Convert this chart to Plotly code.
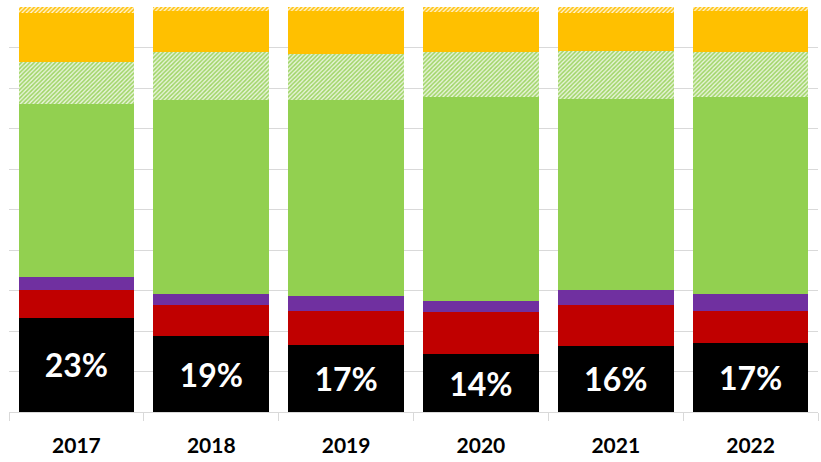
import plotly.graph_objects as go

years = ["2017", "2018", "2019", "2020", "2021", "2022"]
black_vals = [23.3, 18.7, 16.5, 14.2, 16.3, 17.0]
black_labels = ["23%", "19%", "17%", "14%", "16%", "17%"]
red_vals = [6.8, 7.7, 8.4, 10.6, 10.1, 8.0]
purple_vals = [3.2, 2.8, 3.8, 2.7, 3.7, 4.1]
green_vals = [42.7, 47.8, 48.3, 50.4, 47.2, 48.8]
green_hatched_vals = [10.5, 11.8, 11.4, 11.1, 11.8, 11.1]
orange_vals = [11.9, 10.2, 10.7, 9.8, 9.5, 10.0]
orange_hatched_vals = [1.6, 1.0, 0.9, 1.2, 1.4, 1.0]

FONT = "Lato"

fig = go.Figure()

fig.add_trace(go.Bar(
    x=years, y=black_vals, name="Series 1",
    marker=dict(color="#000000", line=dict(width=0)),
    text=black_labels, textposition="inside", insidetextanchor="middle",
    textangle=0,
    textfont=dict(family=FONT, size=32, color="white", weight="bold"),
    hoverinfo="x+y",
))
fig.add_trace(go.Bar(x=years, y=red_vals, name="Series 2",
                     marker=dict(color="#C00000", line=dict(width=0))))
fig.add_trace(go.Bar(x=years, y=purple_vals, name="Series 3",
                     marker=dict(color="#7030A0", line=dict(width=0))))
fig.add_trace(go.Bar(x=years, y=green_vals, name="Series 4",
                     marker=dict(color="#92D050", line=dict(width=0))))
fig.add_trace(go.Bar(
    x=years, y=green_hatched_vals, name="Series 5",
    marker=dict(color="white", line=dict(width=0),
                pattern=dict(shape="/", fgcolor="#9ED464", bgcolor="#E8F4DA",
                             size=3, solidity=0.5, fillmode="replace")),
))
fig.add_trace(go.Bar(x=years, y=orange_vals, name="Series 6",
                     marker=dict(color="#FFC000", line=dict(width=0))))
fig.add_trace(go.Bar(
    x=years, y=orange_hatched_vals, name="Series 7",
    marker=dict(color="white", line=dict(width=0),
                pattern=dict(shape="/", fgcolor="#FFC000", bgcolor="#FFF3D0",
                             size=3, solidity=0.5, fillmode="replace")),
))

fig.update_layout(
    width=821, height=462,
    barmode="stack",
    bargap=0.143,
    showlegend=False,
    paper_bgcolor="white",
    plot_bgcolor="white",
    margin=dict(l=9, r=3, t=7, b=50),
    xaxis=dict(
        showline=True, linecolor="#D9D9D9", linewidth=1,
        ticks="outside", tickson="boundaries", ticklen=8,
        tickcolor="#D9D9D9", tickwidth=1,
        tickfont=dict(family=FONT, size=21, color="black", weight="bold"),
        ticklabelstandoff=15,
        showgrid=False,
    ),
    yaxis=dict(
        range=[0, 100], dtick=10, showticklabels=False,
        showgrid=True, gridcolor="#D9D9D9", gridwidth=1,
        zeroline=False, showline=False, ticks="",
    ),
)

fig.write_html("out.html",
               config={"displayModeBar": False},
               post_script="document.body.style.margin='0';document.body.style.padding='0';")
